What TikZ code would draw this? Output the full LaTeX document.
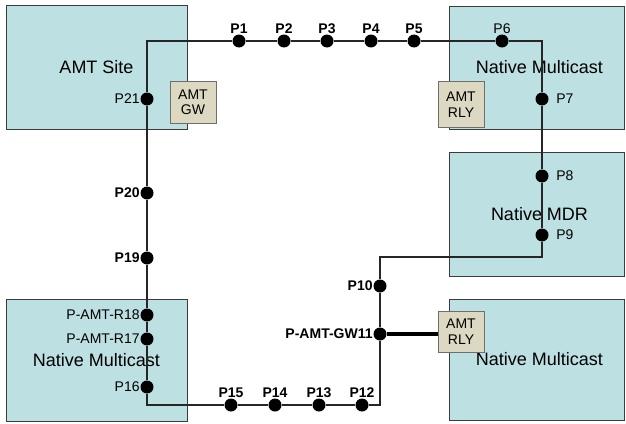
\documentclass[tikz,border=0pt]{standalone}
\usepackage{fontspec}
\setmainfont{Liberation Sans}
\usepackage{tikz}
\usetikzlibrary{positioning}

\begin{document}
\begin{tikzpicture}[
    x=1pt, y=-1pt,
    area/.style={
        rectangle,
        draw=areadraw,
        fill=areafill,
        line width=0.9pt,
        align=center,
        minimum width=176pt,
        minimum height=123pt,
        font=\fontsize{18}{21}\selectfont
    },
    amtbox/.style={
        rectangle,
        draw=amtdraw,
        fill=amtfill,
        line width=0.9pt,
        align=center,
        inner sep=0pt,
        minimum width=46pt,
        minimum height=42pt,
        font=\fontsize{14}{15.5}\selectfont
    },
    hop/.style={circle, fill=black, inner sep=0pt, minimum size=13pt},
    lbl/.style={font=\fontsize{14}{16}\selectfont, inner sep=0.5pt},
    blbl/.style={font=\fontsize{14}{16}\selectfont\bfseries, inner sep=0.5pt},
    link/.style={draw=linegray, line width=1.4pt},
    thicklink/.style={draw=black, line width=4pt}
]

% Colors
\definecolor{areafill}{RGB}{189,224,227}
\definecolor{areadraw}{RGB}{60,60,60}
\definecolor{amtfill}{RGB}{221,216,193}
\definecolor{amtdraw}{RGB}{110,110,110}
\definecolor{linegray}{RGB}{38,38,38}

\useasboundingbox (0,0) rectangle (626,423);

% Areas
\node[area, minimum width=181pt, minimum height=124pt] (site) at (96.5,67) {AMT Site};
\node[area, minimum width=175pt] (mcast1) at (536.5,67.5) {\hspace*{6pt}Native Multicast};
\node[area, minimum width=175pt, minimum height=124pt] (mdr) at (536.5,214) {\hspace*{6pt}Native MDR};
\node[area, minimum width=181pt, minimum height=122pt] (mcast2) at (96.5,360) {Native Multicast};
\node[area, minimum width=175pt, minimum height=121pt] (mcast3) at (536.5,359.5) {\hspace*{6pt}Native Multicast};

% AMT boxes
\node[amtbox] (gw) at (193,102.5) {AMT\\GW};
\node[amtbox, minimum height=46pt] (rly1) at (461,104.5) {AMT\\RLY};
\node[amtbox, minimum height=41pt] (rly2) at (461,331.5) {AMT\\RLY};

% Top row
\node[hop, label={[blbl]above:P1}] (p1) at (239,41) {};
\node[hop, label={[blbl]above:P2}] (p2) at (284,41) {};
\node[hop, label={[blbl]above:P3}] (p3) at (327,41) {};
\node[hop, label={[blbl]above:P4}] (p4) at (371,41) {};
\node[hop, label={[blbl]above:P5}] (p5) at (414,41) {};
\node[hop, label={[lbl]above:P6}] (p6) at (502,41) {};

% Right side
\node[hop, label={[lbl, label distance=7pt]right:P7}] (p7) at (542,99) {};
\node[hop, label={[lbl, label distance=7pt]right:P8}] (p8) at (542,176) {};
\node[hop, label={[lbl, label distance=7pt]right:P9}] (p9) at (542,235) {};
\node[hop, label={[blbl]left:P10}] (p10) at (380,286) {};
\node[hop, label={[blbl]left:P-AMT-GW11}] (gw11) at (380,334) {};

% Bottom row
\node[hop, label={[blbl]above:P12}] (p12) at (362,405) {};
\node[hop, label={[blbl]above:P13}] (p13) at (319,405) {};
\node[hop, label={[blbl]above:P14}] (p14) at (275,405) {};
\node[hop, label={[blbl]above:P15}] (p15) at (231,405) {};

% Left side
\node[hop, label={[lbl]left:P16}] (p16) at (147,387) {};
\node[hop, label={[lbl]left:P-AMT-R17}] (p17) at (147,339) {};
\node[hop, label={[lbl]left:P-AMT-R18}] (p18) at (147,315) {};
\node[hop, label={[blbl]left:P19}] (p19) at (147,258) {};
\node[hop, label={[blbl]left:P20}] (p20) at (147,193) {};
\node[hop, label={[lbl]left:P21}] (p21) at (147,99) {};

% Links
\draw[link] (p21) |- (p1);
\draw[link] (p1) -- (p2) -- (p3) -- (p4) -- (p5) -- (p6);
\draw[link] (p6) -| (p7);
\draw[link] (p7) -- (p8) -- (p9);
\draw[link] (p9) -- ++(0,22) -| (p10);
\draw[link] (p10) -- (gw11);
\draw[link] (gw11) |- (p12);
\draw[link] (p12) -- (p13) -- (p14) -- (p15);
\draw[link] (p15) -| (p16);
\draw[link] (p16) -- (p17) -- (p18) -- (p19) -- (p20) -- (p21);

\draw[thicklink] (gw11) -- (gw11 -| rly2.west);

\end{tikzpicture}
\end{document}
